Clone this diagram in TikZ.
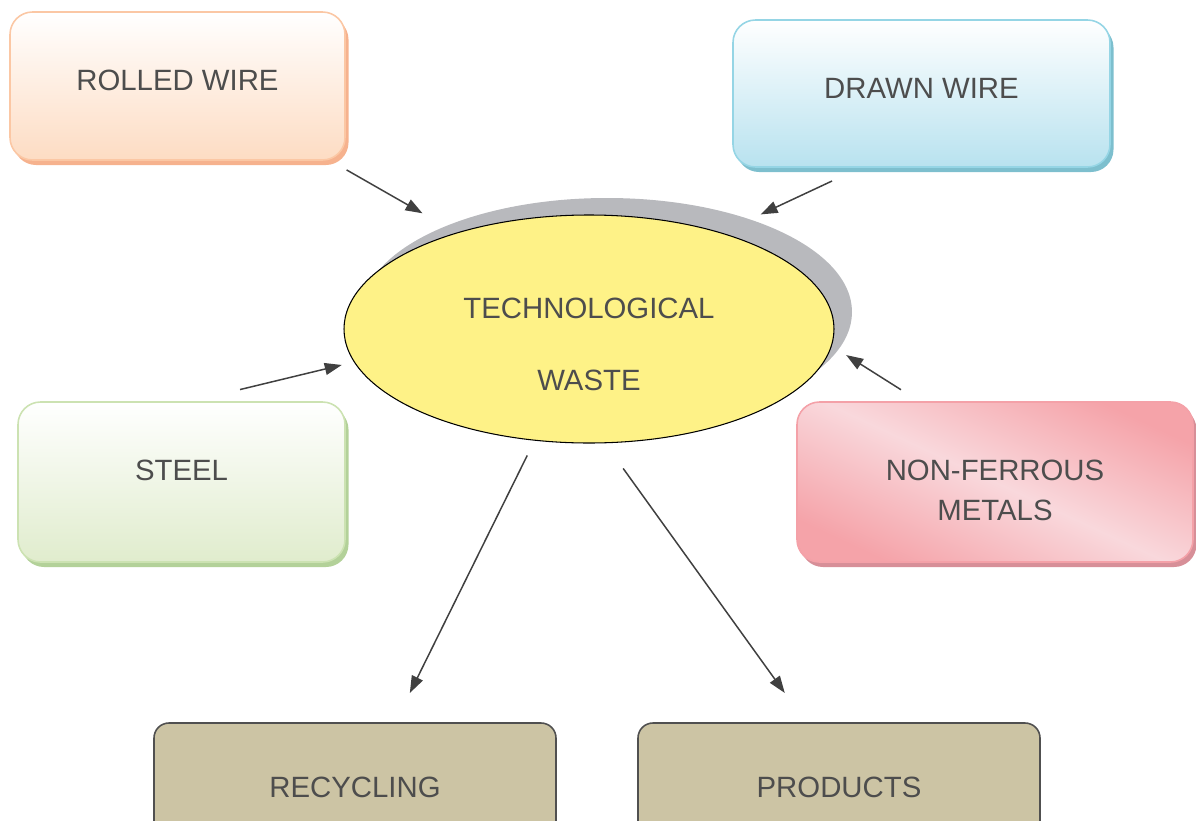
\documentclass[tikz,border=0pt]{standalone}
\usepackage{fontspec}
\setmainfont{Liberation Sans}
\usetikzlibrary{positioning,shapes.geometric,shadows,arrows.meta}
\definecolor{textgray}{HTML}{4D4D4D}
\definecolor{arrowgray}{HTML}{404040}
\definecolor{wasteyellow}{HTML}{FEF287}
\definecolor{wasteshadow}{HTML}{B8B9BD}
\definecolor{rolledline}{HTML}{FBC7A4}
\definecolor{rolledfill}{HTML}{FDDCC3}
\definecolor{rolledshadow}{HTML}{F6B28E}
\definecolor{drawnline}{HTML}{95D5E5}
\definecolor{drawnfill}{HTML}{B8E2EF}
\definecolor{drawnshadow}{HTML}{7DBFCE}
\definecolor{steelline}{HTML}{CCE2B2}
\definecolor{steelfill}{HTML}{E0ECCD}
\definecolor{steelshadow}{HTML}{B3D199}
\definecolor{nonferline}{HTML}{F4A1A8}
\definecolor{nonferfill}{HTML}{F5A3A9}
\definecolor{nonferlight}{HTML}{F9D8DC}
\definecolor{nonfershadow}{HTML}{D78F98}
\definecolor{outfill}{HTML}{CCC4A4}
\definecolor{outline}{HTML}{505050}
\tikzset{
    box/.style = {
        rounded corners=0.45cm,
        line width=0.9pt,
        inner sep=0pt,
        outer sep=0pt,
        text=textgray,
        font=\fontsize{16.7}{20}\selectfont,
        align=center,
        },
    source/.style 2 args = {
        box,
        draw=#1line,
        top color=white,
        bottom color=#1fill,
        drop shadow={shadow xshift=0.07cm, shadow yshift=-0.1cm,
            fill=#1shadow, opacity=1},
        minimum width=#2,
        },
    result/.style = {
        box,
        rounded corners=0.3cm,
        draw=outline,
        fill=outfill,
        minimum width=8.04cm,
        minimum height=2.56cm,
        },
    waste/.style = {
        ellipse,
        draw=black,
        line width=0.6pt,
        fill=wasteyellow,
        general shadow={shadow xshift=0.36cm, shadow yshift=0.34cm,
            fill=wasteshadow},
        minimum width=9.8cm,
        minimum height=4.56cm,
        text=textgray,
        font=\fontsize{16.7}{20}\selectfont,
        align=center,
        },
    feed/.style = {
        draw=arrowgray,
        line width=0.85pt,
        -{Triangle[length=0.34cm,width=0.24cm]},
        },
}

\begin{document}
\begin{tikzpicture}
            \clip (0,0) rectangle (23.92,-16.42);

            \node[waste] (waste) at (11.78,-6.58) {\rule{0pt}{1.04cm}TECHNOLOGICAL\\[21pt]WASTE};
            \node[source={rolled}{6.7cm}, minimum height=2.96cm, text depth=0.24cm,
                above left=3.38cm and 4.88cm of waste.center] (rolled) {ROLLED WIRE};
            \node[source={drawn}{7.54cm}, minimum height=2.94cm, text depth=0.2cm,
                above right=3.24cm and 2.88cm of waste.center] (drawn) {DRAWN WIRE};
            \node[source={steel}{6.54cm}, minimum height=3.2cm, text depth=0.48cm,
                below left=1.46cm and 4.88cm of waste.center] (steel) {STEEL};
            \node[source={nonfer}{7.92cm}, minimum height=3.2cm,
                top color=nonferfill, bottom color=nonferfill, middle color=nonferlight,
                shading angle=-25,
                below right=1.46cm and 4.16cm of waste.center] (nonfer) {\rule{0pt}{0.74cm}NON-FERROUS\\[2.7pt]METALS};
            \node[result, below left=7.88cm and 0.66cm of waste.center] (recyc) {RECYCLING};
            \node[result, below right=7.88cm and 0.98cm of waste.center] (prod) {PRODUCTS};

            % inputs
            \path (rolled.-26) edge[feed, shorten <=0.4cm, shorten >=0.78cm] (waste.144.3);
            \path (drawn.231.5) edge[feed, shorten <=0.66cm, shorten >=0.86cm] (waste.36);
            \path (steel.85) edge[feed, shorten <=1.06cm, shorten >=0.25cm] (waste.188.3);
            \path (nonfer.133.2) edge[feed, shorten <=0.46cm, shorten >=0.34cm] (waste.-4.6);
            % outputs
            \path (waste.244.3) edge[feed, shorten <=0.33cm, shorten >=0.67cm] (recyc.58.6);
            \path (waste.278) edge[feed, shorten <=0.62cm, shorten >=0.74cm] (prod.117.6);
        \end{tikzpicture}
\end{document}
